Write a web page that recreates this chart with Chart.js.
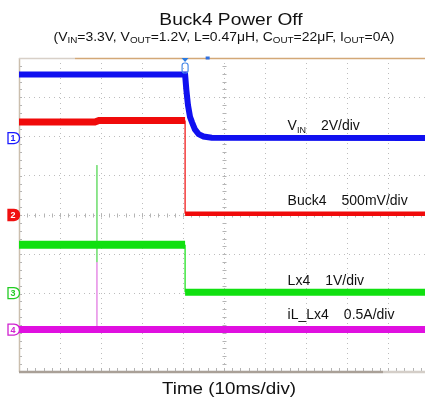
<!DOCTYPE html>
<html>
<head>
<meta charset="utf-8">
<script src="https://cdn.jsdelivr.net/npm/chart.js@4.4.1/dist/chart.umd.min.js"></script>
<style>
  body{margin:0;background:#fff;}
  #wrap{position:relative;width:425px;height:407px;overflow:hidden;font-family:"Liberation Sans",Arial,sans-serif;color:#111;}
  #c{position:absolute;left:0;top:0;}
  .txt{position:absolute;white-space:nowrap;transform-origin:50% 50%;}
  #title{left:231px;top:10.5px;font-size:16.5px;line-height:16.5px;transform:translateX(-50%) scaleX(1.16);}
  #sub{left:224px;top:31px;font-size:12px;line-height:12px;transform:translateX(-50%) scaleX(1.16);}
  #sub sub{font-size:8.5px;vertical-align:-2px;line-height:0;}
  #xlab{left:229px;top:380px;font-size:16.5px;line-height:16.5px;transform:translateX(-50%) scaleX(1.14);}
</style>
</head>
<body>
<div id="wrap">
  <canvas id="c" width="425" height="407"></canvas>
  <div class="txt" id="title">Buck4 Power Off</div>
  <div class="txt" id="sub">(V<sub>IN</sub>=3.3V, V<sub>OUT</sub>=1.2V, L=0.47μH, C<sub>OUT</sub>=22μF, I<sub>OUT</sub>=0A)</div>
  <div class="txt" id="xlab">Time (10ms/div)</div>
</div>
<script>
(function(){

// time in divisions (10ms/div), level in divisions
const vinT  = [0, 4.05, 4.08, 4.12, 4.17, 4.22, 4.29, 4.38, 4.5, 4.7, 9.9];
const vinV  = [3.58, 3.58, 3.2, 2.8, 2.5, 2.36, 2.18, 2.06, 2.0, 1.97, 1.96];

const buckHiT = [0, 1.85, 1.95, 4.05];
const buckHiV = [2.37, 2.37, 2.41, 2.41];
const buckLoT = [4.05, 9.9];
const buckLoV = [0.03, 0.03];

const lxHiT = [0, 4.05];
const lxHiV = [-0.76, -0.76];
const lxLoT = [4.05, 9.9];
const lxLoV = [-1.97, -1.97];

const ilT = [0, 9.9];
const ilV = [-2.92, -2.92];

// glitch at ~19ms
const spikeT = 1.9;
const spikeGreen = [1.27, -1.2];
const spikeMag = [-1.2, -2.9];

// channel ground markers
const chLabels = ["1", "2", "3", "4"];
const chLevels = [1.96, 0, -1.99, -2.92];
const chColors = ["#1a1aff", "#f01010", "#22cc22", "#d020d0"];

const BLUE="#1010f0", RED="#f00a0a", GREEN="#10e010", MAG="#e010e0";

function pts(t,v){ return t.map((x,i)=>({x:x,y:v[i]})); }
function ds(data,color,w){
  return {data:data,borderColor:color,borderWidth:w,pointRadius:0,tension:0,fill:false,borderCapStyle:"butt"};
}

const datasets=[
  ds(pts(vinT,vinV),BLUE,6),
  ds(pts(buckHiT,buckHiV),RED,7),
  ds([{x:buckHiT[3],y:buckHiV[3]},{x:buckLoT[0],y:buckLoV[0]}],RED,1.2),
  ds(pts(buckLoT,buckLoV),RED,4.5),
  ds(pts(lxHiT,lxHiV),GREEN,8),
  ds([{x:lxHiT[1],y:lxHiV[1]},{x:lxLoT[0],y:lxLoV[0]}],GREEN,1.2),
  ds(pts(lxLoT,lxLoV),GREEN,7),
  ds(pts(ilT,ilV),MAG,7),
  ds([{x:spikeT,y:spikeGreen[0]},{x:spikeT,y:spikeGreen[1]}],"#7ee07e",1),
  ds([{x:spikeT,y:spikeMag[0]},{x:spikeT,y:spikeMag[1]}],"#e89ae8",1)
];

function line(ctx,x1,y1,x2,y2){ ctx.beginPath(); ctx.moveTo(x1,y1); ctx.lineTo(x2,y2); ctx.stroke(); }

function drawLabel(ctx,x,y,name,sub,scale){
  ctx.font="14px 'Liberation Sans', Arial, sans-serif";
  ctx.fillStyle="#111";
  ctx.fillText(name,x,y);
  let w=ctx.measureText(name).width;
  if(sub){
    ctx.font="9px 'Liberation Sans', Arial, sans-serif";
    ctx.fillText(sub,x+w,y+3);
    w+=ctx.measureText(sub).width;
    ctx.font="14px 'Liberation Sans', Arial, sans-serif";
  }
  ctx.fillText(scale,x+w+15,y);
}

const scopeDeco={
  id:"scopeDeco",
  beforeDatasetsDraw(chart){
    const {ctx,chartArea:a,scales:{x,y}}=chart;
    ctx.save();
    ctx.lineWidth=1;
    ctx.strokeStyle="#b4b4b4";
    const y0=Math.round(y.getPixelForValue(0))+0.5;
    for(let i=0;i<=Math.floor(x.max*5);i++){
      const px=Math.round(x.getPixelForValue(i/5))+0.5;
      line(ctx,px,y0-2,px,y0+2);
      line(ctx,px,a.bottom-4,px,a.bottom);
    }
    const x0=Math.round(x.getPixelForValue(5))+0.5;
    for(let i=-20;i<=20;i++){
      const py=Math.round(y.getPixelForValue(i/5))+0.5;
      line(ctx,x0-2,py,x0+2,py);
      line(ctx,a.left,py,a.left+3,py);
    }
    // frame
    ctx.strokeStyle="#cbbfae"; ctx.lineWidth=1.5;
    line(ctx,a.left+0.5,a.top,a.left+0.5,a.bottom);
    ctx.strokeStyle="#d3a877"; ctx.lineWidth=1.5;
    line(ctx,75,a.top+0.5,a.right,a.top+0.5);
    ctx.strokeStyle="#d8d0c8";
    line(ctx,a.left,a.top+0.5,75,a.top+0.5);
    ctx.strokeStyle="#a9a097"; ctx.lineWidth=2.5;
    line(ctx,a.left,a.bottom,383,a.bottom);
    ctx.strokeStyle="#d4cec8";
    line(ctx,383,a.bottom,a.right,a.bottom);
    ctx.restore();
  },
  afterDatasetsDraw(chart){
    const {ctx,chartArea:a,scales:{x,y}}=chart;
    ctx.save();
    ctx.textBaseline="alphabetic";
    const lx=x.getPixelForValue(6.55);
    drawLabel(ctx,lx,y.getPixelForValue(2.17),"V","IN","2V/div");
    drawLabel(ctx,lx,y.getPixelForValue(0.255),"Buck4","","500mV/div");
    drawLabel(ctx,lx,y.getPixelForValue(-1.78),"Lx4","","1V/div");
    drawLabel(ctx,lx,y.getPixelForValue(-2.65),"iL_Lx4","","0.5A/div");

    // channel markers
    chLevels.forEach((lv,i)=>{
      const py=y.getPixelForValue(lv);
      ctx.beginPath();
      ctx.moveTo(8,py-5.5); ctx.lineTo(14,py-5.5);
      ctx.quadraticCurveTo(19.5,py-5,19.5,py);
      ctx.quadraticCurveTo(19.5,py+5,14,py+5.5);
      ctx.lineTo(8,py+5.5); ctx.closePath();
      ctx.lineWidth=1.3;
      ctx.strokeStyle=chColors[i];
      ctx.fillStyle=i===1?chColors[i]:"#fff";
      ctx.fill(); ctx.stroke();
      ctx.font="bold 9px 'Liberation Sans', Arial, sans-serif";
      ctx.textAlign="center"; ctx.textBaseline="middle";
      ctx.fillStyle=i===1?"#fff":chColors[i];
      ctx.fillText(chLabels[i],13,py+0.5);
    });

    // trigger marker
    const tx=x.getPixelForValue(buckHiT[3]);
    ctx.fillStyle="#2a7ae0";
    ctx.beginPath(); ctx.moveTo(tx-3.5,a.top); ctx.lineTo(tx+3.5,a.top); ctx.lineTo(tx,a.top+4); ctx.closePath(); ctx.fill();
    ctx.strokeStyle="#4a8ae8"; ctx.lineWidth=1.2;
    ctx.beginPath(); ctx.roundRect(tx-3,a.top+5,6,10,2.5); ctx.stroke();
    ctx.fillStyle="#3070e0";
    ctx.fillRect(x.getPixelForValue(4.6)-2,a.top-1.5,4,3);
    ctx.restore();
  }
};

new Chart(document.getElementById("c"),{
  type:"line",
  data:{datasets:datasets},
  options:{
    responsive:false,
    animation:false,
    events:[],
    layout:{padding:{left:19,top:58,right:0,bottom:35}},
    plugins:{legend:{display:false},tooltip:{enabled:false},title:{display:false}},
    scales:{
      x:{type:"linear",min:0,max:9.9,
        ticks:{display:false,stepSize:1,includeBounds:false},
        grid:{color:"#bdbdbd",lineWidth:1,drawTicks:false},
        border:{display:false,dash:[1,4]}},
      y:{type:"linear",min:-4,max:4,
        ticks:{display:false,stepSize:1,includeBounds:false},
        grid:{color:"#bdbdbd",lineWidth:1,drawTicks:false},
        border:{display:false,dash:[1,4]}}
    }
  },
  plugins:[scopeDeco]
});

})();
</script>
</body>
</html>
